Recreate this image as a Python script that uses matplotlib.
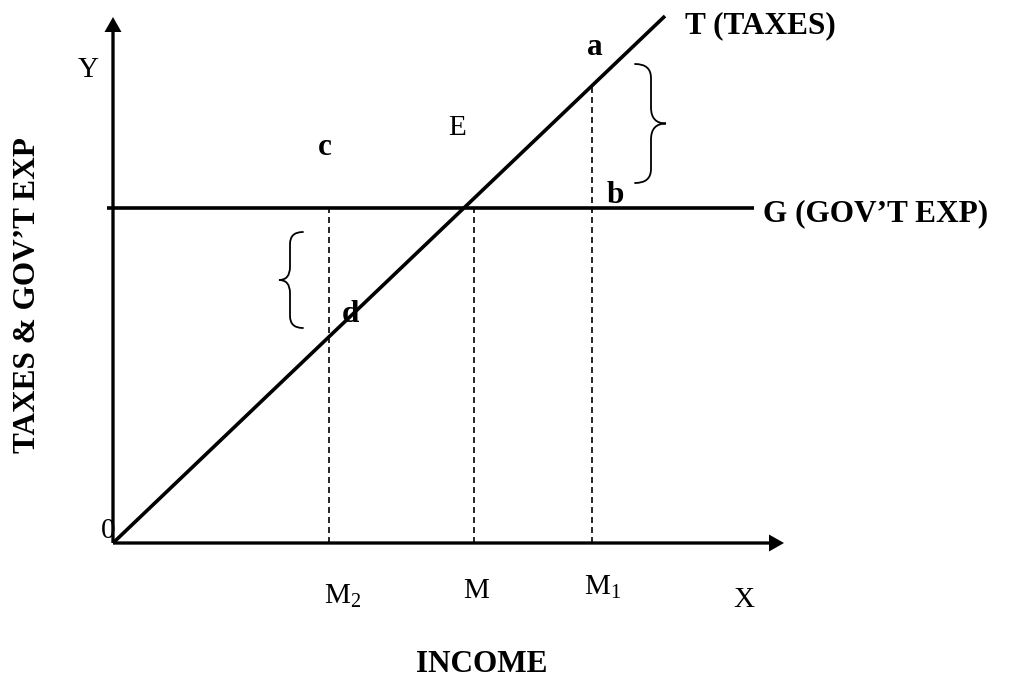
import matplotlib
matplotlib.use("Agg")
import matplotlib.pyplot as plt
from matplotlib.path import Path
from matplotlib.patches import PathPatch

plt.rcParams['font.family'] = ['Liberation Serif', 'DejaVu Serif']
plt.rcParams['mathtext.fontset'] = 'custom'
plt.rcParams['mathtext.rm'] = 'Liberation Serif'
plt.rcParams['mathtext.it'] = 'Liberation Serif:italic'
plt.rcParams['mathtext.bf'] = 'Liberation Serif:bold'
plt.rcParams['lines.scale_dashes'] = False

# ---- data (diagram units, origin at 0,0) ----
x_axis_end = 671
y_axis_end = 526
tax_x = [0, 552]
tax_y = [0, 527]
gov_x = [-6, 641]
gov_y = [335, 335]
m_labels = ['M$_2$', 'M', 'M$_1$']
m_positions = [216, 361, 479]
m_tops = [335, 335, 457]

fig = plt.figure(figsize=(10.09, 6.81), dpi=100)
ax = fig.add_axes([0, 0, 1, 1])
ax.set_xlim(-113, 896)
ax.set_ylim(-138, 543)
ax.axis('off')

lw = 2.6
# axes with arrows
ax.arrow(0, 0, x_axis_end, 0, width=3.3, head_width=17, head_length=15,
         length_includes_head=True, fc='black', ec='none')
ax.arrow(0, 0, 0, y_axis_end, width=3.3, head_width=17, head_length=15,
         length_includes_head=True, fc='black', ec='none')

# T and G lines
ax.plot(tax_x, tax_y, color='black', lw=lw, solid_capstyle='butt')
ax.plot(gov_x, gov_y, color='black', lw=lw, solid_capstyle='butt')

# dashed verticals
for xm, top in zip(m_positions, m_tops):
    ax.plot([xm, xm], [0, top], color='black', lw=1.2, dashes=(4.3, 2.9))


def brace(x_end, x_spine, x_tip, y_top, y_bot, r_end, r_mid):
    y_mid = (y_top + y_bot) / 2
    verts = [
        (x_end, y_top), (x_spine, y_top), (x_spine, y_top - r_end),
        (x_spine, y_mid + r_mid), (x_spine, y_mid), (x_tip, y_mid),
        (x_spine, y_mid), (x_spine, y_mid - r_mid),
        (x_spine, y_bot + r_end), (x_spine, y_bot), (x_end, y_bot),
    ]
    codes = [Path.MOVETO, Path.CURVE3, Path.CURVE3,
             Path.LINETO, Path.CURVE3, Path.CURVE3,
             Path.CURVE3, Path.CURVE3,
             Path.LINETO, Path.CURVE3, Path.CURVE3]
    ax.add_patch(PathPatch(Path(verts, codes), fc='none', ec='black',
                           lw=1.3, capstyle='round'))


brace(522, 538, 553, 479, 360, 14, 16)
brace(190, 177, 166, 311, 215, 12, 13)

bold = dict(fontsize=22.5, fontweight='bold', color='black')
reg = dict(fontsize=21, color='black')

ax.text(572, 510, 'T (TAXES)', ha='left', va='baseline', **bold)
ax.text(650, 322, 'G (GOV\u2019T EXP)', ha='left', va='baseline', **bold)
ax.text(482, 488, 'a', ha='center', va='baseline', **bold)
ax.text(502, 340, 'b', ha='center', va='baseline', **bold)
ax.text(212, 388, 'c', ha='center', va='baseline', **bold)
ax.text(237, 221, 'd', ha='center', va='baseline', **bold)
ax.text(344, 408, 'E', ha='center', va='baseline', **reg)
ax.text(-25, 466, 'Y', ha='center', va='baseline', **reg)
ax.text(-5, 5, '0', ha='center', va='baseline', **reg)

m_offsets = [(-61, 'left', -1), (-55, 'center', 0), (-52, 'left', -4)]
for xm, lab, (yb, ha, dx) in zip(m_positions, m_labels, m_offsets):
    xx = xm - 4 if ha == 'left' else xm + 2
    ax.text(xx + dx, yb, lab, ha=ha, va='baseline', **reg)
ax.text(631, -64, 'X', ha='center', va='baseline', **reg)
ax.text(369, -129, 'INCOME', ha='center', va='baseline', **bold)
ax.text(-85, 248, 'TAXES & GOV\u2019T EXP', rotation=90, ha='center',
        va='center', **bold)

fig.savefig('out.png', dpi=100)
